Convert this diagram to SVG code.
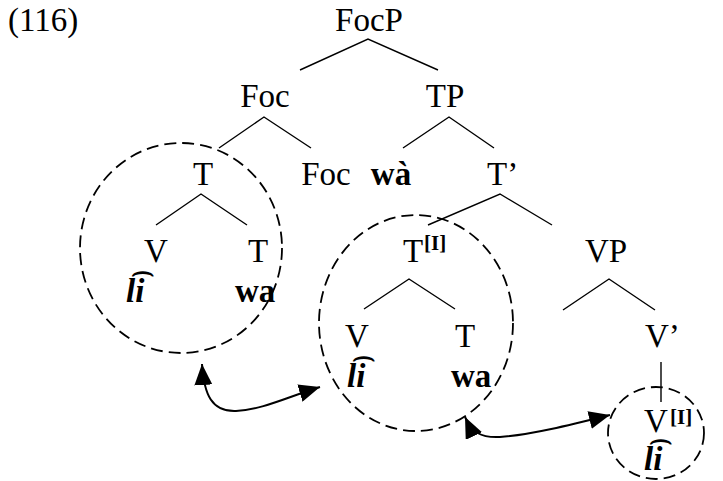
<svg xmlns="http://www.w3.org/2000/svg" width="723" height="481" viewBox="0 0 723 481">
  <style>
    text { font-family: "Liberation Serif", "Times New Roman", serif; font-size: 33px; fill: #000; }
    .b { font-weight: bold; }
    .bi { font-weight: bold; font-style: italic; }
    .sup { font-weight: bold; font-size: 21px; }
    .c { text-anchor: middle; }
    .edge { stroke: #000; stroke-width: 1.4; fill: none; }
    .ring { stroke: #000; stroke-width: 1.8; fill: none; stroke-dasharray: 12 6; }
    .move { stroke: #000; stroke-width: 2; fill: none; marker-start: url(#head); marker-end: url(#head); }
  </style>
  <defs>
    <marker id="head" markerUnits="userSpaceOnUse" markerWidth="21" markerHeight="18" viewBox="0 0 21 18" refX="21" refY="9" orient="auto-start-reverse">
      <path d="M0,0 L21,9 L0,18 z" fill="#000"/>
    </marker>
  </defs>

  <text x="8" y="31">(116)</text>

  <!-- tree branches -->
  <g id="connectors">
    <path class="edge" d="M300,70 L368,39 L438,70"/>
    <path class="edge" d="M219,148 L264,117 L311,148"/>
    <path class="edge" d="M403,148 L449,117 L494,148"/>
    <path class="edge" d="M156,225 L201,194 L247,225"/>
    <path class="edge" d="M428,225 L500,194 L552,225"/>
    <path class="edge" d="M364,309 L409,279 L455,309"/>
    <path class="edge" d="M563,310 L609,279 L655,310"/>
    <path class="edge" d="M661,362 L661,402"/>
    <!-- head movement arrows -->
    <path class="move" d="M202,364 C204,395 212,412 236,411 C262,410 290,396 320,387"/>
    <path class="move" d="M465,417 C472,432 480,438 500,437 C530,435 570,425 610,415"/>
  </g>

  <!-- dashed domains -->
  <ellipse class="ring" cx="181" cy="248" rx="101" ry="105"/>
  <ellipse class="ring" cx="416" cy="323" rx="97" ry="108"/>
  <ellipse class="ring" cx="656" cy="433" rx="48" ry="46"/>

  <g id="FocP"><text class="c" x="369" y="31">FocP</text></g>
  <g id="Foc-bar"><text class="c" x="265" y="107">Foc</text></g>
  <g id="TP"><text class="c" x="445" y="107">TP</text></g>
  <g id="T-complex"><text class="c" x="203" y="185">T</text></g>
  <g id="Foc-head"><text class="c" x="326" y="185">Foc</text></g>
  <g id="wa-spec"><text class="b c" x="391" y="185">wà</text></g>
  <g id="T-bar"><text x="487" y="185">T’</text></g>
  <g id="V-1"><text class="c" x="156" y="262">V</text><text class="bi" x="126" y="302">l͡i</text></g>
  <g id="T-1"><text class="c" x="258" y="262">T</text><text class="b" x="235" y="302">wa</text></g>
  <g id="T-I"><text x="403" y="262">T</text><text class="sup" x="424" y="250">[I]</text></g>
  <g id="VP"><text class="c" x="606" y="262">VP</text></g>
  <g id="V-2"><text class="c" x="357" y="347">V</text><text class="bi" x="347" y="387">l͡i</text></g>
  <g id="T-2"><text class="c" x="465" y="347">T</text><text class="b" x="451" y="387">wa</text></g>
  <g id="V-bar"><text x="645" y="347">V’</text></g>
  <g id="V-I"><text x="644" y="432">V</text><text class="sup" x="670" y="424">[I]</text><text class="bi" x="644" y="470">l͡i</text></g>
</svg>
